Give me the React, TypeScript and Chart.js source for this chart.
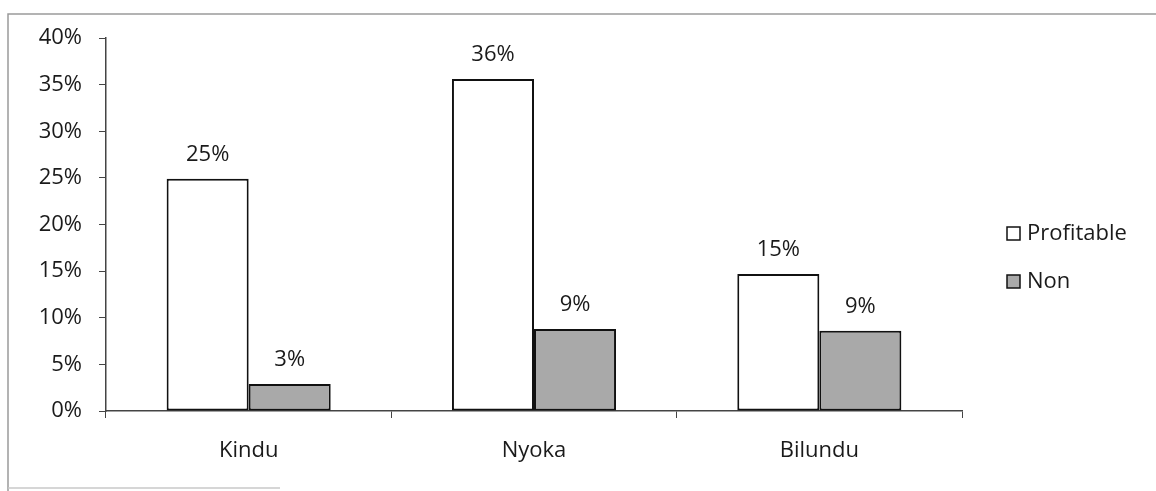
import React, { useEffect, useRef } from "react";
import { Chart, registerables } from "chart.js";

Chart.register(...registerables);

const categories = ["Kindu", "Nyoka", "Bilundu"];
const profitable = [0.249, 0.356, 0.147];
const nonProfitable = [0.029, 0.088, 0.086];
const seriesNames = ["Profitable", "Non"];
const yTicks = [0, 0.05, 0.1, 0.15, 0.2, 0.25, 0.3, 0.35, 0.4];

const FONT = "'Open Sans', sans-serif";
const FONT_SIZE = 22;
const TEXT = "#1a1a1a";
const NON_FILL = "#a9a9a9";

const pct = (v: number) => `${Math.round(v * 100)}%`;

// Percent labels above each bar
const valueLabels = {
  id: "valueLabels",
  afterDatasetsDraw(chart: any) {
    const { ctx } = chart;
    ctx.save();
    ctx.font = `${FONT_SIZE}px ${FONT}`;
    ctx.fillStyle = TEXT;
    ctx.textAlign = "center";
    ctx.textBaseline = "bottom";
    chart.data.datasets.forEach((ds: any, i: number) => {
      const meta = chart.getDatasetMeta(i);
      meta.data.forEach((bar: any, j: number) => {
        ctx.fillText(pct(ds.data[j]), bar.x, bar.y - 13);
      });
    });
    ctx.restore();
  },
};

// Outer frame and legend on the right
const frameAndLegend = {
  id: "frameAndLegend",
  afterDraw(chart: any) {
    const { ctx } = chart;
    ctx.save();
    ctx.strokeStyle = "#9a9a9a";
    ctx.lineWidth = 1.5;
    ctx.beginPath();
    ctx.moveTo(8, 491);
    ctx.lineTo(8, 14);
    ctx.lineTo(1156, 14);
    ctx.stroke();
    ctx.beginPath();
    ctx.strokeStyle = "#c8c8c8";
    ctx.moveTo(8, 488);
    ctx.lineTo(280, 488);
    ctx.stroke();

    const items = [
      { label: seriesNames[0], fill: "#ffffff", y: 233 },
      { label: seriesNames[1], fill: NON_FILL, y: 281 },
    ];
    ctx.font = `${FONT_SIZE}px ${FONT}`;
    ctx.textAlign = "left";
    ctx.textBaseline = "middle";
    items.forEach((it) => {
      ctx.fillStyle = it.fill;
      ctx.fillRect(1007, it.y - 6, 13, 13);
      ctx.strokeStyle = "#111";
      ctx.lineWidth = 1.5;
      ctx.strokeRect(1007, it.y - 6, 13, 13);
      ctx.fillStyle = TEXT;
      ctx.fillText(it.label, 1027, it.y + 1);
    });
    ctx.restore();
  },
};

export default function App() {
  const canvasRef = useRef<HTMLCanvasElement | null>(null);

  useEffect(() => {
    const canvas = canvasRef.current;
    if (!canvas) return;
    const chart = new Chart(canvas, {
      type: "bar",
      data: {
        labels: categories,
        datasets: [
          {
            label: seriesNames[0],
            data: profitable,
            backgroundColor: "#ffffff",
            borderColor: "#111",
            borderWidth: 2,
            borderSkipped: false,
          },
          {
            label: seriesNames[1],
            data: nonProfitable,
            backgroundColor: NON_FILL,
            borderColor: "#111",
            borderWidth: 2,
            borderSkipped: false,
          },
        ],
      },
      options: {
        responsive: false,
        animation: false,
        events: [],
        layout: { padding: { left: 0, top: 38, right: 194, bottom: 0 } },
        datasets: {
          bar: { barPercentage: 1, categoryPercentage: 0.575 },
        },
        plugins: {
          legend: { display: false },
          tooltip: { enabled: false },
        },
        scales: {
          x: {
            grid: {
              display: true,
              drawOnChartArea: false,
              drawTicks: true,
              tickLength: 7,
              offset: true,
              color: "#444",
            },
            border: { color: "#444", width: 1.5 },
            ticks: {
              color: TEXT,
              font: { family: FONT, size: FONT_SIZE },
              padding: 20,
              autoSkip: false,
              maxRotation: 0,
            },
            afterFit(scale: any) {
              scale.height = 80;
            },
          },
          y: {
            min: 0,
            max: 0.4,
            afterBuildTicks(scale: any) {
              scale.ticks = yTicks.map((v) => ({ value: v }));
            },
            grid: {
              display: true,
              drawOnChartArea: false,
              drawTicks: true,
              tickLength: 7,
              color: "#444",
            },
            border: { color: "#444", width: 1.5 },
            ticks: {
              color: TEXT,
              font: { family: FONT, size: FONT_SIZE },
              padding: 17,
              callback: (v: any) => pct(Number(v)),
            },
            afterFit(scale: any) {
              scale.width = 106;
            },
          },
        },
      },
      plugins: [valueLabels, frameAndLegend],
    });
    return () => chart.destroy();
  }, []);

  return (
    <div style={{ position: "absolute", left: 0, top: 0, width: 1156, height: 491, background: "#fff" }}>
      <canvas ref={canvasRef} width={1156} height={491} style={{ display: "block" }} />
    </div>
  );
}
